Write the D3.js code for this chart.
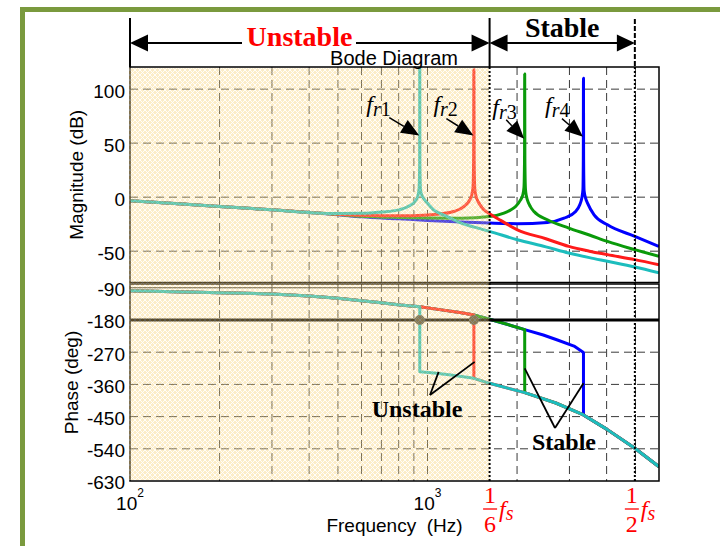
<!DOCTYPE html>
<html>
<head>
<meta charset="utf-8">
<script src="https://cdn.jsdelivr.net/npm/d3@7"></script>
<style>
  body { margin: 0; background: #fff; }
  svg { display: block; }
</style>
</head>
<body>
<svg id="chart" width="720" height="546"></svg>
<script>
// ---------- data ----------
const magTicks = [100, 50, 0, -50];
const phaseTicks = [-90, -180, -270, -360, -450, -540, -630];
const decadeTicks = [{ v: 100, exp: "2" }, { v: 1000, exp: "3" }];
const gridFreqs = [200, 300, 400, 500, 600, 700, 800, 900, 1000, 2000, 3000, 4000, 5000];
const resonanceFreqs = [942, 1432, 2122, 3344];      // f_r1 .. f_r4 (Hz)
const fsSixth = 1617;                                 // fs / 6
const fsHalf = 4977;                                  // fs / 2
const seriesColors = ["#1CBDBD", "#FF1A1A", "#0A9A0A", "#0000FF"];

// magnitude (Hz, dB)
const magFr1 = [[100,-3.4],[150,-6.3],[200,-8.7],[300,-11.7],[400,-14.2],[500,-15.2],[600,-15],[700,-13.8],[800,-11.8],[870,-8],[910,-3.5],[928,1],[937,8],[941,30],[942,125],[943,30],[948,6],[960,1],[972,-1.5],[1010,-7],[1048,-11.7],[1100,-15],[1165,-18],[1291,-23.8],[1450,-28],[1617,-31.7],[2005,-39.4],[2500,-46],[2984,-51.7],[3500,-56],[4027,-59.4],[4977,-64.6],[6000,-70]];
const magFr2 = [[100,-3.4],[150,-6.3],[200,-8.7],[300,-11.7],[400,-14.2],[500,-15.8],[600,-16.8],[800,-17.3],[1000,-16.5],[1100,-15.5],[1225,-13.3],[1325,-8.7],[1380,-3.5],[1408,2],[1422,9],[1429,35],[1432,118],[1435,35],[1442,8],[1455,1],[1470,-2.5],[1510,-8],[1547,-11.7],[1617,-15.4],[1762,-21.5],[2005,-30.2],[2500,-38.5],[2984,-45.6],[3500,-50],[4027,-53.2],[4977,-57.8],[6000,-62.5]];
const magFr3 = [[100,-3.4],[150,-6.3],[200,-8.7],[300,-11.7],[400,-14.2],[500,-16],[600,-17.6],[800,-18.8],[1000,-19.3],[1300,-19.5],[1617,-18],[1807,-14.8],[1900,-12],[1978,-8.7],[2050,-3],[2090,2],[2110,9],[2119,35],[2122,114],[2125,35],[2134,8],[2150,1],[2166,-2.5],[2220,-9],[2280,-13.3],[2529,-20.9],[2984,-28.6],[3500,-35],[4027,-41],[4977,-48.6],[6000,-54.8]];
const magFr4 = [[100,-3.4],[150,-6.3],[200,-8.7],[300,-11.7],[400,-14.2],[500,-16.2],[600,-18.2],[800,-20],[1000,-21.5],[1300,-23],[1617,-24],[2005,-24.6],[2529,-23.4],[2877,-19.4],[3148,-13.3],[3250,-7],[3300,-1],[3330,7],[3340,35],[3344,110],[3348,35],[3360,6],[3400,-1],[3450,-5.5],[3630,-16.3],[4027,-25.6],[4977,-36.3],[6000,-45.6]];

// phase (Hz, deg): branch before the jump and branch after it
const phaseUpperBranch = [[100,-98],[200,-103.7],[300,-107.4],[400,-113],[500,-119.4],[600,-126],[700,-131.7],[810,-138],[942,-143],[1100,-151],[1300,-160],[1432,-166],[1617,-178],[1850,-192],[2122,-207],[2450,-222],[2734,-236],[3108,-253],[3344,-271]];
const phaseLowerBranch = [[942,-324.5],[1050,-328],[1200,-334],[1432,-343],[1617,-357],[2122,-383],[2700,-412],[3344,-445.5],[4000,-485],[4977,-538.6],[6000,-590]];

const magSeries = [magFr1, magFr2, magFr3, magFr4];

// ---------- layout ----------
const plotLeft = 130, plotRight = 659;
const magTop = 67, magBottom = 282.5;
const phTop = 284, phBottom = 481;
const sans = "'Liberation Sans', Arial, sans-serif";
const serif = "'Liberation Serif', 'Times New Roman', serif";

const x = d3.scaleLog().domain([100, 6000]).range([plotLeft, plotRight]);
const magY = d3.scaleLinear().domain([-79, 120.5]).range([magBottom, magTop]);
const phY = d3.scaleLinear().domain([-630, -79.4]).range([phBottom, phTop]);

const svg = d3.select("#chart");
const defs = svg.append("defs");

defs.append("clipPath").attr("id", "clipMag").append("rect")
  .attr("x", plotLeft).attr("y", magTop).attr("width", plotRight - plotLeft).attr("height", magBottom - magTop);
defs.append("clipPath").attr("id", "clipPh").append("rect")
  .attr("x", plotLeft).attr("y", phTop).attr("width", plotRight - plotLeft).attr("height", phBottom - phTop);

const pat = defs.append("pattern").attr("id", "hatch")
  .attr("width", 5).attr("height", 5).attr("patternUnits", "userSpaceOnUse");
pat.append("rect").attr("width", 5).attr("height", 5).attr("fill", "#F8CD66");
pat.append("path").attr("d", "M0,0L5,5M5,0L0,5M-1,4L1,6M4,-1L6,1")
  .attr("stroke", "#fff").attr("stroke-width", 0.9);

// outer frame
svg.append("rect").attr("x", 22.5).attr("y", 9.5).attr("width", 760).attr("height", 600)
  .attr("fill", "none").attr("stroke", "#7A9A3E").attr("stroke-width", 5);

// ---------- grid ----------
const grid = svg.append("g").attr("stroke", "#3a3a3a").attr("stroke-width", 1).attr("stroke-dasharray", "8,5");
gridFreqs.forEach(f => {
  grid.append("line").attr("x1", x(f)).attr("x2", x(f)).attr("y1", magTop).attr("y2", magBottom);
  grid.append("line").attr("x1", x(f)).attr("x2", x(f)).attr("y1", phTop).attr("y2", phBottom);
});
magTicks.forEach(v => {
  grid.append("line").attr("x1", plotLeft).attr("x2", plotRight).attr("y1", magY(v)).attr("y2", magY(v));
});
phaseTicks.filter(v => v < -180 && v > -630).forEach(v => {
  grid.append("line").attr("x1", plotLeft).attr("x2", plotRight).attr("y1", phY(v)).attr("y2", phY(v));
});
svg.append("line").attr("x1", plotLeft).attr("x2", plotRight).attr("y1", phY(-90)).attr("y2", phY(-90))
  .attr("stroke", "#222").attr("stroke-width", 1);

// ---------- curves ----------
const magLine = d3.line().x(d => x(d[0])).y(d => magY(d[1])).curve(d3.curveMonotoneX);
const phLine = d3.line().x(d => x(d[0])).y(d => phY(d[1]));

const magG = svg.append("g").attr("clip-path", "url(#clipMag)");
const phG = svg.append("g").attr("clip-path", "url(#clipPh)");

[3, 2, 1, 0].forEach(i => {
  magG.append("path").attr("d", magLine(magSeries[i]))
    .attr("fill", "none").attr("stroke", seriesColors[i]).attr("stroke-width", 3)
    .attr("stroke-linejoin", "round");
});

[3, 2, 1, 0].forEach(i => {
  const fr = resonanceFreqs[i];
  const pts = phaseUpperBranch.filter(d => d[0] <= fr).concat(phaseLowerBranch.filter(d => d[0] >= fr));
  phG.append("path").attr("d", phLine(pts))
    .attr("fill", "none").attr("stroke", seriesColors[i]).attr("stroke-width", 3)
    .attr("stroke-linejoin", "round");
});

// -180 deg reference
svg.append("line").attr("x1", plotLeft).attr("x2", plotRight).attr("y1", phY(-180)).attr("y2", phY(-180))
  .attr("stroke", "#000").attr("stroke-width", 3);
// crossings of the -180 deg line
resonanceFreqs.slice(0, 2).forEach(f => {
  svg.append("circle").attr("cx", x(f)).attr("cy", phY(-180)).attr("r", 5).attr("fill", "#4a4a40");
});

// axes boxes
[[magTop, magBottom], [phTop, phBottom]].forEach(([t, b]) => {
  svg.append("rect").attr("x", plotLeft).attr("y", t).attr("width", plotRight - plotLeft).attr("height", b - t)
    .attr("fill", "none").attr("stroke", "#000").attr("stroke-width", 1.5);
});

// shaded unstable band
svg.append("rect").attr("x", plotLeft - 1).attr("y", magTop + 1)
  .attr("width", x(fsSixth) - plotLeft + 1).attr("height", phBottom - magTop - 2)
  .attr("fill", "url(#hatch)").attr("opacity", 0.36);

// fs/6 and fs/2 markers
[fsSixth, fsHalf].forEach(f => {
  svg.append("line").attr("x1", x(f)).attr("x2", x(f)).attr("y1", magTop).attr("y2", phBottom)
    .attr("stroke", "#000").attr("stroke-width", 2).attr("stroke-dasharray", "2,2");
});

// ---------- tick labels ----------
function styleAxis(g) {
  g.select(".domain").remove();
  g.attr("font-family", sans).attr("font-size", 19);
  g.selectAll("text").attr("fill", "#000").attr("dy", "0.42em");
}
const plainNum = d => String(d);
svg.append("g").attr("transform", `translate(${plotLeft},0)`)
  .call(d3.axisLeft(magY).tickValues(magTicks).tickFormat(plainNum).tickSize(0).tickPadding(5)).call(styleAxis);
svg.append("g").attr("transform", `translate(${plotLeft},0)`)
  .call(d3.axisLeft(phY).tickValues(phaseTicks).tickFormat(plainNum).tickSize(0).tickPadding(5)).call(styleAxis);

decadeTicks.forEach(t => {
  const tx = svg.append("text").attr("x", x(t.v)).attr("y", 510).attr("text-anchor", "middle")
    .attr("font-family", sans).attr("font-size", 19).text("10");
  tx.append("tspan").attr("dy", -13).attr("font-size", 12).text(t.exp);
});

// axis titles
svg.append("text").attr("x", 394).attr("y", 65).attr("text-anchor", "middle")
  .attr("font-family", sans).attr("font-size", 20).text("Bode Diagram");
svg.append("text").attr("x", 394.5).attr("y", 532).attr("text-anchor", "middle")
  .attr("font-family", sans).attr("font-size", 19).attr("xml:space", "preserve").text("Frequency  (Hz)");
svg.append("text").attr("transform", `translate(83,${(magTop + magBottom) / 2}) rotate(-90)`)
  .attr("text-anchor", "middle").attr("font-family", sans).attr("font-size", 19).text("Magnitude (dB)");
svg.append("text").attr("transform", `translate(78,${(phTop + phBottom) / 2}) rotate(-90)`)
  .attr("text-anchor", "middle").attr("font-family", sans).attr("font-size", 19).text("Phase (deg)");

// fs fraction labels
function fsLabel(cx, den) {
  const g = svg.append("g").attr("fill", "#FF0000").attr("font-family", serif);
  g.append("text").attr("x", cx).attr("y", 503).attr("text-anchor", "middle").attr("font-size", 24).text("1");
  g.append("line").attr("x1", cx - 7).attr("x2", cx + 7).attr("y1", 509).attr("y2", 509)
    .attr("stroke", "#FF0000").attr("stroke-width", 1.3);
  g.append("text").attr("x", cx).attr("y", 532).attr("text-anchor", "middle").attr("font-size", 24).text(den);
  const f = g.append("text").attr("x", cx + 9).attr("y", 517).attr("font-size", 24).attr("font-style", "italic").text("f");
  f.append("tspan").attr("dy", 3).attr("font-size", 20).text("s");
}
fsLabel(x(fsSixth) + 0.5, "6");
fsLabel(x(fsHalf) - 3, "2");

// ---------- stability range arrows ----------
const arrowY = 43;
function head(tipX, dir) {
  svg.append("path")
    .attr("d", `M${tipX},${arrowY}L${tipX - dir * 18},${arrowY - 8.5}L${tipX - dir * 18},${arrowY + 8.5}Z`)
    .attr("fill", "#000");
}
svg.append("line").attr("x1", plotLeft).attr("x2", plotLeft).attr("y1", 18).attr("y2", magTop)
  .attr("stroke", "#000").attr("stroke-width", 2);
svg.append("line").attr("x1", x(fsSixth)).attr("x2", x(fsSixth)).attr("y1", 18).attr("y2", magTop)
  .attr("stroke", "#000").attr("stroke-width", 2);
svg.append("line").attr("x1", x(fsHalf)).attr("x2", x(fsHalf)).attr("y1", 19).attr("y2", magTop)
  .attr("stroke", "#000").attr("stroke-width", 2).attr("stroke-dasharray", "5,2");

svg.append("line").attr("x1", plotLeft + 10).attr("x2", 242).attr("y1", arrowY).attr("y2", arrowY)
  .attr("stroke", "#000").attr("stroke-width", 2);
svg.append("line").attr("x1", 356).attr("x2", x(fsSixth) - 10).attr("y1", arrowY).attr("y2", arrowY)
  .attr("stroke", "#000").attr("stroke-width", 2);
head(plotLeft, -1);
head(x(fsSixth), 1);
svg.append("text").attr("x", 299.5).attr("y", 46).attr("text-anchor", "middle")
  .attr("font-family", serif).attr("font-weight", "bold").attr("font-size", 28).attr("fill", "#FF0000").text("Unstable");

svg.append("line").attr("x1", x(fsSixth) + 10).attr("x2", x(fsHalf) - 10).attr("y1", arrowY).attr("y2", arrowY)
  .attr("stroke", "#000").attr("stroke-width", 2);
head(x(fsSixth), -1);
head(x(fsHalf), 1);
svg.append("text").attr("x", (x(fsSixth) + x(fsHalf)) / 2).attr("y", 37).attr("text-anchor", "middle")
  .attr("font-family", serif).attr("font-weight", "bold").attr("font-size", 28).attr("fill", "#000").text("Stable");

// ---------- resonance annotations ----------
const frLabels = [
  { name: "1", tipDb: 57, labelDx: -53, startDx: -30, startDy: -18 },
  { name: "2", tipDb: 57, labelDx: -40, startDx: -27, startDy: -17 },
  { name: "3", tipDb: 54, labelDx: -32, startDx: -18, startDy: -19 },
  { name: "4", tipDb: 56, labelDx: -38, startDx: -21, startDy: -18 }
];
frLabels.forEach((a, i) => {
  const tx = x(resonanceFreqs[i]) - 0.5, ty = magY(a.tipDb);
  const sx = tx + a.startDx, sy = ty + a.startDy;
  const ang = Math.atan2(ty - sy, tx - sx);
  const L = 18, Wd = 7.5;
  const bx = tx - L * Math.cos(ang), by = ty - L * Math.sin(ang);
  svg.append("line").attr("x1", sx).attr("y1", sy).attr("x2", bx).attr("y2", by)
    .attr("stroke", "#000").attr("stroke-width", 1.5);
  svg.append("path")
    .attr("d", `M${tx},${ty}L${bx + Wd * Math.sin(ang)},${by - Wd * Math.cos(ang)}L${bx - Wd * Math.sin(ang)},${by + Wd * Math.cos(ang)}Z`)
    .attr("fill", "#000");
  const t = svg.append("text").attr("x", tx + a.labelDx).attr("y", ty - 24)
    .attr("font-family", serif).attr("font-size", 24).attr("font-style", "italic").text("f");
  t.append("tspan").attr("dy", 4).attr("font-size", 20).text("r");
  t.append("tspan").attr("font-size", 20).attr("font-style", "normal").text(a.name);
});

// ---------- phase-jump annotations ----------
function vNote(label, apex, tips, textX, textY) {
  tips.forEach(p => {
    svg.append("line").attr("x1", apex[0]).attr("y1", apex[1]).attr("x2", x(p[0])).attr("y2", phY(p[1]))
      .attr("stroke", "#000").attr("stroke-width", 1.8);
  });
  svg.append("text").attr("x", textX).attr("y", textY).attr("text-anchor", "middle")
    .attr("font-family", serif).attr("font-weight", "bold").attr("font-size", 24).text(label);
}
vNote("Unstable", [430, 395], [[1090, -325], [1440, -297]], 417, 416.5);
vNote("Stable", [555, 428], [[2122, -315], [3344, -357]], 564, 450);
</script>
</body>
</html>
